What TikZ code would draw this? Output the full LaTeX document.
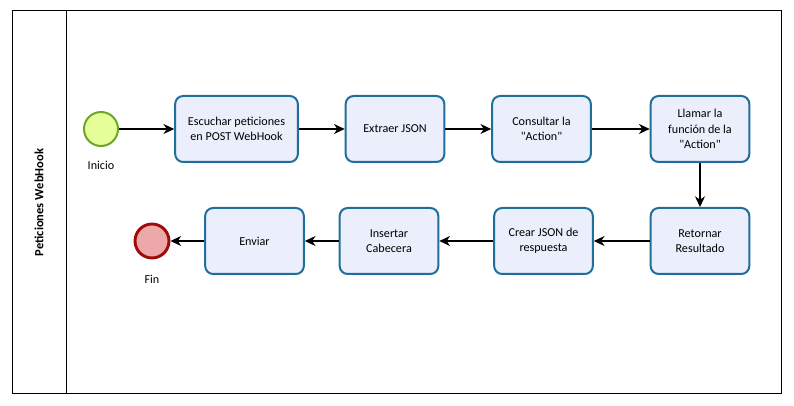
\documentclass[tikz,border=0pt]{standalone}
\usepackage{fontspec}
\newfontfamily\diagfont{Carlito}
\usetikzlibrary{arrows.meta}
\definecolor{taskfill}{HTML}{EBEFFC}
\definecolor{taskline}{HTML}{1F6E9C}
\definecolor{startfill}{HTML}{E6FF99}
\definecolor{startline}{HTML}{6AA628}
\definecolor{endfill}{HTML}{EDA9A9}
\definecolor{endline}{HTML}{A10A0A}
\tikzset{
  task/.style={rectangle,rounded corners=6pt,draw=taskline,fill=taskfill,line width=1.5pt,
    minimum width=74pt,minimum height=49.5pt,align=center},
  flow/.style={line width=0.8pt,-{Stealth[length=8pt,width=7.5pt,inset=2.5pt]}}
}
\begin{document}
\begin{tikzpicture}[x=0.75pt,y=-0.75pt,font=\diagfont\fontsize{9.1}{11.5}\selectfont]
\useasboundingbox (0,0) rectangle (794,406);
\fill[white] (0,0) rectangle (794,406);

% pool and lane
\draw[line width=0.75pt] (12,11) rectangle (781,394);
\draw[line width=0.75pt] (66,11) -- (66,394);
\node[rotate=90,font=\diagfont\fontsize{9.4}{10}\selectfont\bfseries] (lane) at (39,202.5) {Peticiones WebHook};

% events
\begin{scope}[every node/.style={circle,minimum size=25.5pt,inner sep=0pt}]
  \node[draw=startline,fill=startfill,line width=1.5pt] (inicio) at (101,129) {};
  \node[draw=endline,fill=endfill,line width=2.2pt] (fin) at (152,241) {};
\end{scope}
\node (inicioLbl) at (101,165) {Inicio};
\node (finLbl) at (152,279) {Fin};

% tasks
\begin{scope}[every node/.style={task}]
  \node[minimum width=92pt] (escuchar) at (236.5,129) {Escuchar peticiones\\en POST WebHook};
  \node (extraer) at (395,129) {Extraer JSON};
  \node (consultar) at (541.5,129) {Consultar la\\"Action"};
  \node (llamar) at (700,129) {Llamar la\\función de la\\"Action"};
  \node (retornar) at (700,241) {Retornar\\Resultado};
  \node (crear) at (543.5,241) {Crear JSON de\\respuesta};
  \node (insertar) at (389,241) {Insertar\\Cabecera};
  \node (enviar) at (254.5,241) {Enviar};
\end{scope}

% sequence flows
\begin{scope}
  \path [flow] (inicio) edge (escuchar);
  \path [flow] (escuchar) edge (extraer);
  \path [flow] (extraer) edge (consultar);
  \path [flow] (consultar) edge (llamar);
  \path [flow] (llamar) edge (retornar);
  \path [flow] (retornar) edge (crear);
  \path [flow] (crear) edge (insertar);
  \path [flow] (insertar) edge (enviar);
  \path [flow] (enviar) edge (fin);
\end{scope}
\end{tikzpicture}
\end{document}
